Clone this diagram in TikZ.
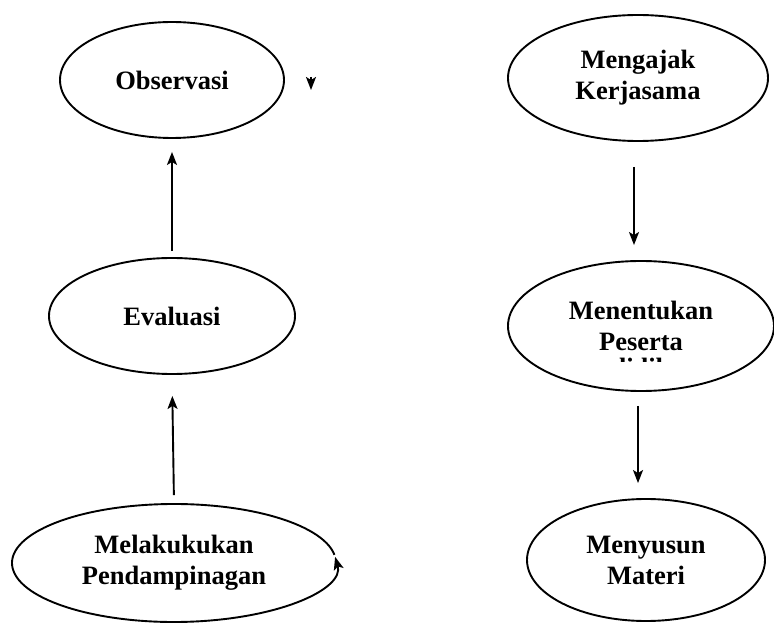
\documentclass[tikz,border=0pt]{standalone}
\usepackage{fontspec}
\setmainfont{Liberation Serif}
\usetikzlibrary{arrows.meta, positioning, shapes.geometric}

\begin{document}
\begin{tikzpicture}[x=1pt, y=1pt,
    oval/.style={ellipse, line width=1.9pt, align=center, inner sep=0pt,
        font=\bfseries\fontsize{26.5}{31}\selectfont},
    flow/.style={line width=1.9pt, -{Stealth[length=13pt, width=10pt, inset=3pt]}}]
    \useasboundingbox (0, 0) rectangle (774, 622);

    \node[oval, draw, minimum width=224, minimum height=116] (nodeObs) at (172, 542) {Observasi};
    \node[oval, draw, minimum width=246, minimum height=116] (nodeEval) at (172, 306) {Evaluasi};
    \node[oval, minimum width=324, minimum height=118] (nodePend) at (174, 59) {Melakukukan\\Pendampinagan};
    \node[oval, draw, minimum width=260, minimum height=126] (nodeAjak) at (638, 544) {Mengajak\\Kerjasama};
    \node[oval, draw, minimum width=266, minimum height=130] (nodeTentu) at (641, 296) {Menentukan\\Peserta};
    \node[oval, draw, minimum width=238, minimum height=122] (nodeSusun) at (646, 62) {Menyusun\\Materi};

    \begin{scope}
        \clip (560, 260.5) rectangle (720, 290);
        \node[anchor=base, font=\bfseries\fontsize{26.5}{31}\selectfont] (nodeDidik) at (641, 245.5) {didik};
    \end{scope}

    \draw[flow] (nodePend.center) ++(8:162 and 59) arc[start angle=8, end angle=366, x radius=162, y radius=59];

    \coordinate (stray) at (311, 532);
    \draw[flow] ([yshift=13pt]stray) -- (stray);

    \draw[flow, shorten <=6pt, shorten >=13pt] (nodeEval.north) -- (nodeObs.south);
    \draw[flow, shorten <=8pt, shorten >=21pt] (nodePend.north) -- (nodeEval.south);
    \draw[flow, shorten <=25pt, shorten >=15pt] ([xshift=-4pt]nodeAjak.south) -- ([xshift=-4pt]nodeAjak.south |- nodeTentu.north);
    \draw[flow, shorten <=14pt, shorten >=15pt] ([xshift=-3pt]nodeTentu.south) -- ([xshift=-3pt]nodeTentu.south |- nodeSusun.north);
\end{tikzpicture}
\end{document}
